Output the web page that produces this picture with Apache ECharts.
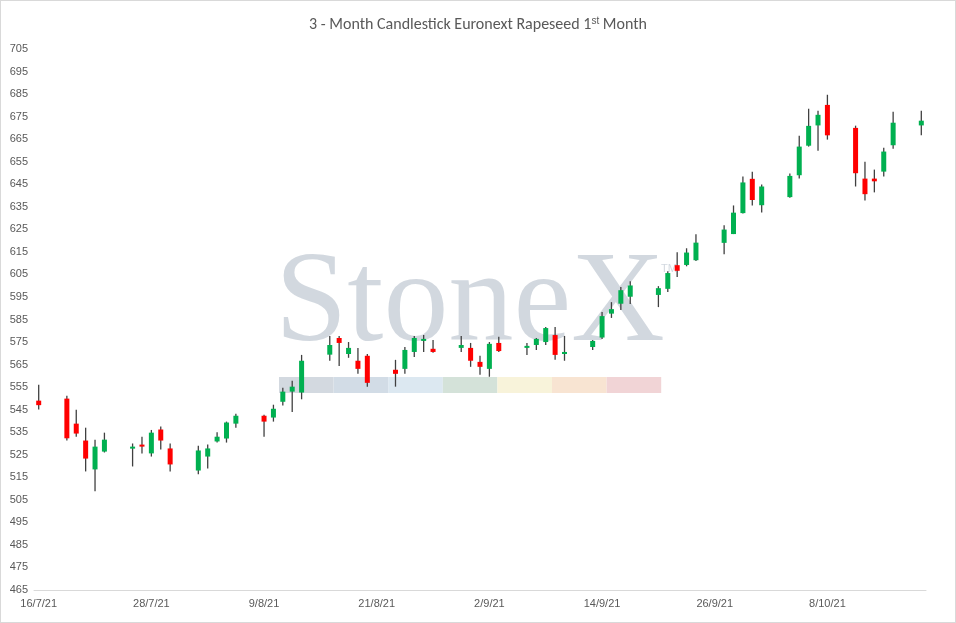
<!DOCTYPE html>
<html><head><meta charset="utf-8">
<script src="https://cdn.jsdelivr.net/npm/echarts@6/dist/echarts.min.js"></script>
<style>html,body{margin:0;padding:0;background:#fff}#c{width:956px;height:623px;box-sizing:border-box;border:1px solid #d9d9d9}</style>
</head><body><div id="c"></div>
<script>
const dates = ["16/7/21","19/7/21","20/7/21","21/7/21","22/7/21","23/7/21","26/7/21","27/7/21","28/7/21","29/7/21","30/7/21",
"2/8/21","3/8/21","4/8/21","5/8/21","6/8/21","9/8/21","10/8/21","11/8/21","12/8/21","13/8/21","16/8/21","17/8/21","18/8/21","19/8/21","20/8/21",
"23/8/21","24/8/21","25/8/21","26/8/21","27/8/21","30/8/21","31/8/21","1/9/21","2/9/21","3/9/21","6/9/21","7/9/21","8/9/21","9/9/21","10/9/21",
"13/9/21","14/9/21","15/9/21","16/9/21","17/9/21","20/9/21","21/9/21","22/9/21","23/9/21","24/9/21","27/9/21","28/9/21","29/9/21","30/9/21",
"1/10/21","4/10/21","5/10/21","6/10/21","7/10/21","8/10/21","11/10/21","12/10/21","13/10/21","14/10/21","15/10/21","18/10/21"];
const open  = [549,549.9,538.8,531.3,518.5,526.4,527.8,529.5,525.6,536.2,527.8,518,524.2,530.9,532.2,538.8,542.3,541.5,548.5,553,552.6,569.4,576.8,569.7,566.7,568.9,
562.7,563.1,570.6,575.5,572,572.4,572.4,566.2,563.1,574.6,572.4,573.7,575,578.1,569.7,572.8,577,587.6,592,595.1,595.9,598.6,609.1,609.2,611.3,619,622.9,632.2,647.4,
635.7,639.3,649,662.1,671.1,680.2,670,647.5,647.5,650.6,662.3,671.1];
const close = [547,532.3,534.4,523.3,528.6,531.7,528.6,528.6,534.8,531.3,520.7,526.9,527.8,533,539.3,542.3,539.7,545.4,553,555.2,566.7,573.7,574.6,572.4,563.1,556.9,
560.9,571.5,576.8,576.4,570.6,573.7,566.7,564,574.2,571,573.3,576.4,581.2,569.3,570.6,575.5,586.5,589.6,598,600.1,598.9,605.6,606.6,614.7,619.1,624.9,632.4,645.8,638,
644,648.7,661.7,670.9,675.8,666.7,649.9,640.6,646.3,659.5,672.3,673.2];
const low   = [545.1,531.3,533,517.6,508.8,526,519.8,525.6,524.2,527.3,517.6,516.3,518.9,530.4,530.4,537,533,539.7,546.8,544,549.6,566.7,564.4,568,560.9,555.2,
555.2,560.9,568.4,570.6,570.2,570.6,564,560.5,559.6,570.6,569.3,571.5,573.7,567.1,566.7,571.5,576.4,585.7,589.2,591.9,590.5,597.2,603.8,608.6,610.9,613.9,622.9,632,635.6,
632.5,639,647.5,661.7,659.9,664.8,644,637.8,641.4,648.4,660.8,666.7];
const high  = [556,551.2,545,537,531.7,534.8,530,533,536,537.5,530,529,529.5,535,539.7,543.2,542.8,547.2,554.7,557.8,569.3,577.7,577.7,575,572.4,569.7,
567.1,572.8,577.7,578.1,575.9,577.7,574.6,568.9,575,577.3,574.6,576.8,581.7,581.7,577.7,575.9,588.3,592.7,599.4,602,599.8,606.4,614.8,616.6,622.8,626.8,635.6,648.4,650.6,
644.9,649.8,666.5,678.5,677.6,684.7,671,655,651.5,661.2,677.2,677.6];
const yTicks = {min:465, max:705, step:10};

const cats = [];
{ const d = new Date(2021,6,16), end = new Date(2021,9,18);
  while (d <= end) { cats.push(d.getDate()+"/"+(d.getMonth()+1)+"/"+String(d.getFullYear()).slice(2)); d.setDate(d.getDate()+1); } }
const data = dates.map((s,i)=>[cats.indexOf(s), open[i], close[i], low[i], high[i]]);

const stripCols = ['#d3d9e0','#d2dce6','#dce8f1','#d4e2d9','#f8f3da','#f8e4d2','#f1d4d6'];
const chart = echarts.init(document.getElementById('c'));
chart.setOption({
  animation:false,
  title:{text:'{t|3 - Month Candlestick Euronext Rapeseed 1}{s|st}{t| Month}',left:'center',top:10,
    textStyle:{fontWeight:'normal',rich:{t:{fontSize:16,fontWeight:'normal',color:'#595959',fontFamily:'Carlito, "Liberation Sans", sans-serif'},
                     s:{fontSize:10,fontWeight:'normal',color:'#595959',verticalAlign:'top',padding:[0,0,8,0]}}}},
  graphic:[
    ...stripCols.map((c,i)=>({type:'rect',z:0,left:278+i*54.6,top:376,shape:{width:54.6,height:16},style:{fill:c}})),
    {type:'text',z:0,left:274,top:240,style:{text:'StoneX',font:'130px "Liberation Serif", "DejaVu Serif", serif',fill:'rgba(180,190,202,0.6)'}},
    {type:'text',z:0,left:660,top:262,style:{text:'TM',font:'11px sans-serif',fill:'rgba(180,190,202,0.6)'}}
  ],
  grid:{left:33,right:29,top:48,bottom:32},
  xAxis:{type:'category',data:cats,boundaryGap:true,
    axisLine:{lineStyle:{color:'#d9d9d9'}},axisTick:{show:false},
    axisLabel:{interval:11,color:'#595959',fontSize:11,margin:8},splitLine:{show:false}},
  yAxis:{type:'value',min:yTicks.min,max:yTicks.max,interval:yTicks.step,
    axisLine:{show:false},axisTick:{show:false},splitLine:{show:false},
    axisLabel:{color:'#595959',fontSize:11,margin:6}},
  series:[{type:'custom',z:5,data:data,encode:{x:0,y:[1,2,3,4]},
    renderItem:(params,api)=>{
      const x=api.value(0),o=api.value(1),c=api.value(2),l=api.value(3),h=api.value(4);
      const po=api.coord([x,o]),pc=api.coord([x,c]),pl=api.coord([x,l]),ph=api.coord([x,h]);
      const w=5, col=c>=o?'#00B050':'#FF0000';
      const top=Math.min(po[1],pc[1]),hgt=Math.max(Math.abs(po[1]-pc[1]),2);
      return {type:'group',children:[
        {type:'line',shape:{x1:pl[0],y1:pl[1],x2:ph[0],y2:ph[1]},style:{stroke:'#404040',lineWidth:1.3}},
        {type:'rect',shape:{x:po[0]-w/2,y:top,width:w,height:hgt},style:{fill:col}}
      ]};
    }}]
});
</script></body></html>
